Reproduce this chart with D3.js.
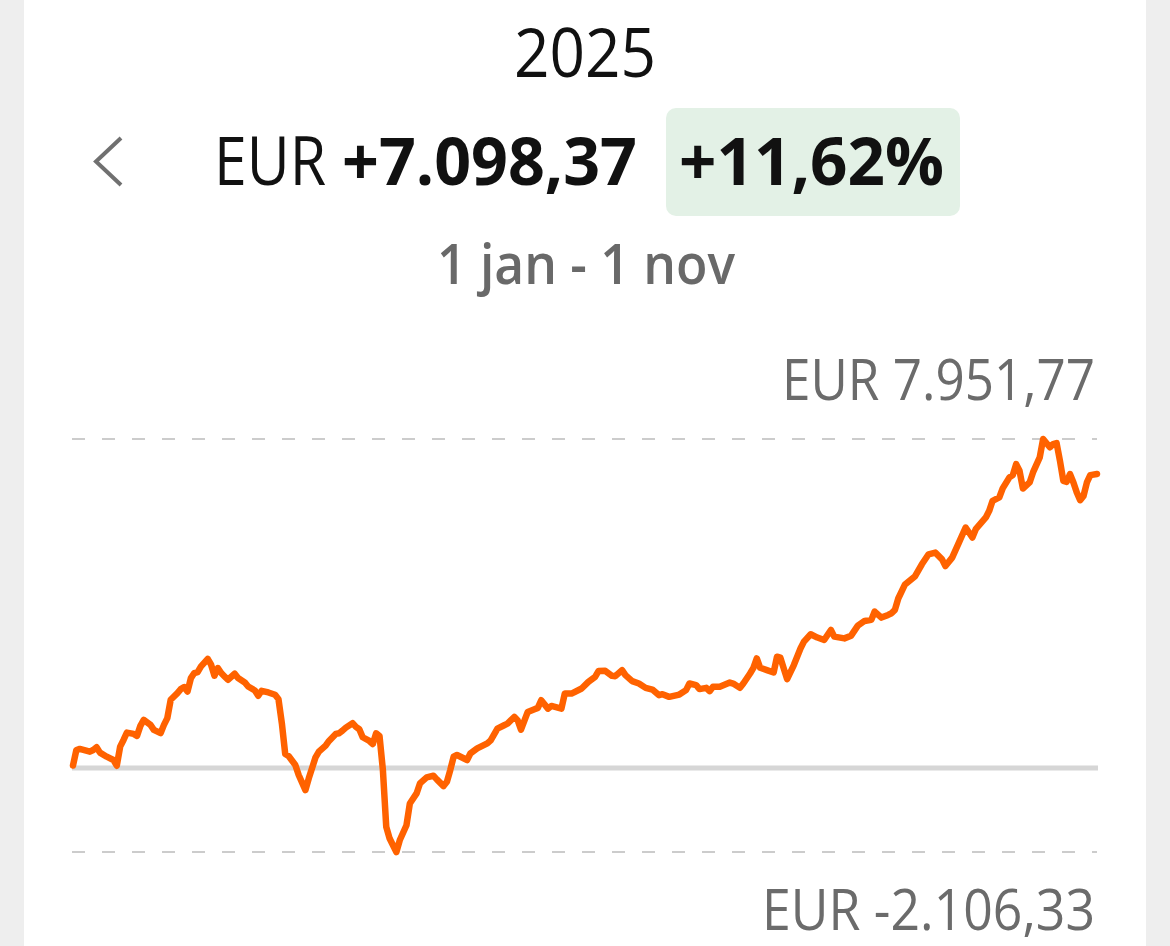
<!DOCTYPE html>
<html>
<head>
<meta charset="utf-8">
<script src="https://cdn.jsdelivr.net/npm/d3@7"></script>
<style>
  html, body { margin: 0; padding: 0; background: #eeeeee; }
  svg { display: block; }
</style>
</head>
<body>
<svg id="chart" width="1170" height="946"></svg>
<script>
// ---- Data ----
const year = "2025";
const currency = "EUR";
const totalChange = "+7.098,37";
const pctChange = "+11,62%";
const periodLabel = "1 jan - 1 nov";
const startDate = "2025-01-01";
const endDate = "2025-11-01";
const maxLabel = "EUR 7.951,77";
const minLabel = "EUR -2.106,33";
const maxValue = 7951.77;
const minValue = -2106.33;

// day offsets from 1 jan
const days = [0,1,2,5,6,7,8,10,12,13,14,15,16,18,19,20,21,23,24,26,27,28,29,31,32,33,34,35,36,37,38,40,41,42,43,44,45,46,48,49,51,52,54,55,56,58,60,61,62,63,64,66,67,69,70,72,73,75,76,78,79,80,81,83,84,85,86,88,89,90,91,92,93,94,96,97,99,100,102,103,105,107,108,110,111,112,113,114,117,118,120,123,124,126,128,129,131,132,133,135,137,138,139,141,142,145,146,148,151,153,155,156,158,160,161,163,164,166,168,170,172,174,175,177,180,182,183,185,186,188,189,190,192,195,196,198,199,201,202,203,204,206,208,209,210,212,214,216,217,219,221,223,225,226,229,231,233,235,237,238,240,242,243,244,245,247,250,252,254,256,258,259,261,263,265,267,268,271,272,273,275,276,278,279,280,281,282,284,285,287,288,290,291,292,293,294,295,296,297,298,299,300,301,302,304];
// result in EUR
const values = [0,378,403,337,378,445,313,215,134,-5,459,623,801,770,721,965,1112,989,867,787,989,1153,1600,1763,1861,1910,1802,2129,2252,2276,2414,2594,2455,2186,2374,2252,2169,2089,2235,2130,2023,1925,1827,1698,1820,1779,1723,1617,1031,281,232,12,-232,-599,-313,200,337,484,598,769,786,850,923,1031,940,884,688,598,525,786,720,-111,-1496,-1779,-2106.33,-1821,-1455,-925,-680,-436,-289,-250,-338,-502,-397,-111,215,256,134,297,419,540,613,897,980,1019,1183,1102,873,1305,1371,1403,1591,1386,1451,1386,1752,1752,1875,2038,2160,2299,2306,2184,2176,2323,2201,2055,1996,1891,1850,1713,1737,1672,1728,1836,1997,1958,1861,1892,1811,1916,1916,2021,1996,1891,1996,2241,2380,2607,2380,2324,2265,2649,2625,2104,2446,2854,3018,3196,3116,3057,3301,3138,3096,3162,3407,3521,3546,3749,3602,3668,3707,3790,4067,4410,4611,4900,5144,5185,5021,4858,5063,5429,5796,5552,5755,6041,6202,6446,6530,6750,7018,7073,7341,7177,6747,6894,7138,7505,7951.77,7749,7830,7854,7422,6933,6909,7097,6894,6650,6462,6566,6894,7072,7098.37];

// ---- Drawing ----
const svg = d3.select("#chart");
const font = "'Open Sans', 'Noto Sans', sans-serif";

// card
svg.append("rect").attr("x", 24).attr("y", 0).attr("width", 1122).attr("height", 946).attr("fill", "#ffffff");

// title
svg.append("text").attr("x", 585).attr("y", 77).attr("text-anchor", "middle")
  .attr("font-family", font).attr("font-size", 68).attr("fill", "#111")
  .attr("textLength", 142).attr("lengthAdjust", "spacingAndGlyphs").text(year);

// chevron
svg.append("path").attr("d", "M121,138 L96,161.5 L121,185")
  .attr("fill", "none").attr("stroke", "#707070").attr("stroke-width", 4).attr("stroke-linecap", "butt");

// EUR + total
svg.append("text").attr("x", 214).attr("y", 185)
  .attr("font-family", font).attr("font-size", 67).attr("fill", "#111")
  .attr("textLength", 112).attr("lengthAdjust", "spacingAndGlyphs").text(currency);
svg.append("text").attr("x", 342).attr("y", 185)
  .attr("font-family", font).attr("font-size", 67).attr("font-weight", 700).attr("fill", "#111")
  .attr("textLength", 295).attr("lengthAdjust", "spacingAndGlyphs").text(totalChange);

// badge
svg.append("rect").attr("x", 666).attr("y", 108).attr("width", 294).attr("height", 108).attr("rx", 10)
  .attr("fill", "#e3f1e6");
svg.append("text").attr("x", 679).attr("y", 185)
  .attr("font-family", font).attr("font-size", 67).attr("font-weight", 700).attr("fill", "#111")
  .attr("textLength", 265).attr("lengthAdjust", "spacingAndGlyphs").text(pctChange);

// period
svg.append("text").attr("x", 437).attr("y", 284)
  .attr("font-family", font).attr("font-size", 56).attr("font-weight", 600).attr("fill", "#696969")
  .attr("textLength", 298).attr("lengthAdjust", "spacingAndGlyphs").text(periodLabel);

// scales
const parse = d3.utcParse("%Y-%m-%d");
const d0 = parse(startDate), d1 = parse(endDate);
const x = d3.scaleUtc().domain([d0, d1]).range([73, 1097]);
const y = d3.scaleLinear().domain([minValue, maxValue]).range([852, 439]);

const data = days.map((d, i) => ({ date: d3.utcDay.offset(d0, d), value: values[i] }));

// max / min labels
svg.append("text").attr("x", 1095).attr("y", 400).attr("text-anchor", "end")
  .attr("font-family", font).attr("font-size", 56).attr("fill", "#6b6b6b")
  .attr("textLength", 313).attr("lengthAdjust", "spacingAndGlyphs").text(maxLabel);
svg.append("text").attr("x", 1095).attr("y", 930).attr("text-anchor", "end")
  .attr("font-family", font).attr("font-size", 56).attr("fill", "#6b6b6b")
  .attr("textLength", 333).attr("lengthAdjust", "spacingAndGlyphs").text(minLabel);

// dashed guide lines at max and min
[maxValue, minValue].forEach(v => {
  svg.append("line").attr("x1", x(d0) - 1).attr("x2", x(d1)).attr("y1", y(v)).attr("y2", y(v))
    .attr("stroke", "#cccccc").attr("stroke-width", 2.2).attr("stroke-dasharray", "13,17");
});

// zero baseline
svg.append("line").attr("x1", x(d0) - 1).attr("x2", x(d1) + 1).attr("y1", y(0) + 2.5).attr("y2", y(0) + 2.5)
  .attr("stroke", "#d6d6d6").attr("stroke-width", 5);

// line
const line = d3.line().x(d => x(d.date)).y(d => y(d.value));
svg.append("path").datum(data).attr("d", line)
  .attr("fill", "none").attr("stroke", "#ff6200").attr("stroke-width", 6.5)
  .attr("stroke-linejoin", "round").attr("stroke-linecap", "round");
</script>
</body>
</html>
